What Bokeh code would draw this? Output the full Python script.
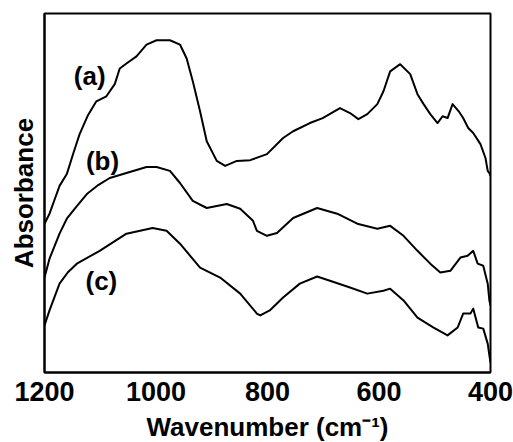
from bokeh.plotting import figure
from bokeh.models import Range1d, FixedTicker, ColumnDataSource
from bokeh.core.properties import value
from bokeh.embed import file_html
from bokeh.resources import INLINE

# Spectrum (a)
wn_a = [1200, 1191, 1182, 1173, 1160, 1148, 1137, 1122, 1107, 1089, 1074, 1065, 1053, 1035,
        1017, 999, 975, 957, 945, 934, 921, 909, 891, 876, 855, 831, 801, 772, 754, 724,
        701, 670, 652, 637, 621, 603, 592, 580, 562, 544, 531, 520, 508, 495, 486, 477,
        468, 457, 449, 440, 431, 418, 409, 405, 402, 400]
abs_a = [0.411, 0.439, 0.478, 0.517, 0.550, 0.610, 0.662, 0.715, 0.754, 0.768, 0.802, 0.846,
         0.860, 0.880, 0.913, 0.925, 0.925, 0.913, 0.874, 0.810, 0.726, 0.642, 0.587, 0.573,
         0.587, 0.589, 0.606, 0.651, 0.670, 0.693, 0.707, 0.735, 0.721, 0.704, 0.718, 0.746,
         0.782, 0.838, 0.858, 0.830, 0.774, 0.746, 0.718, 0.693, 0.712, 0.707, 0.746, 0.726,
         0.707, 0.679, 0.665, 0.634, 0.595, 0.559, 0.553, 0.545]

# Spectrum (b)
wn_b = [1200, 1191, 1173, 1160, 1142, 1124, 1103, 1083, 1053, 1017, 999, 975, 957, 934, 909,
        873, 849, 826, 819, 801, 783, 754, 711, 675, 639, 603, 580, 556, 531, 508, 490,
        472, 454, 441, 431, 423, 413, 405, 402, 400]
abs_b = [0.260, 0.313, 0.383, 0.425, 0.460, 0.494, 0.520, 0.539, 0.553, 0.570, 0.570, 0.559,
         0.525, 0.475, 0.455, 0.466, 0.453, 0.419, 0.391, 0.377, 0.385, 0.427, 0.455, 0.439,
         0.411, 0.397, 0.405, 0.377, 0.335, 0.299, 0.274, 0.279, 0.316, 0.321, 0.335, 0.299,
         0.293, 0.243, 0.196, 0.182]

# Spectrum (c)
wn_c = [1200, 1191, 1173, 1158, 1142, 1101, 1053, 1006, 981, 957, 921, 885, 849, 819, 813,
        796, 772, 742, 711, 688, 652, 621, 592, 580, 556, 531, 502, 477, 459, 449, 436,
        431, 422, 413, 405, 402, 400]
abs_c = [0.126, 0.168, 0.243, 0.275, 0.299, 0.335, 0.383, 0.399, 0.391, 0.355, 0.288, 0.260,
         0.215, 0.159, 0.154, 0.168, 0.204, 0.243, 0.263, 0.251, 0.232, 0.215, 0.223, 0.229,
         0.196, 0.148, 0.120, 0.098, 0.120, 0.159, 0.159, 0.173, 0.120, 0.117, 0.075, 0.042,
         0.022]

# Curve labels
label_text = ["(a)", "(b)", "(c)"]
label_wn = [1119, 1096, 1098]
label_abs = [0.824, 0.587, 0.251]

x_ticks = [1200, 1000, 800, 600, 400]

FONT = "Liberation Sans"

p = figure(width=513, height=442, output_backend="svg", toolbar_location=None,
           x_range=Range1d(1200, 400), y_range=Range1d(-0.006, 1.0),
           min_border_left=44, min_border_right=23, min_border_top=13, min_border_bottom=70)
p.frame_width = 446
p.frame_height = 359

p.grid.visible = False
p.background_fill_color = "white"
p.border_fill_color = "white"
p.outline_line_color = "black"
p.outline_line_width = 2

for wn, ab in [(wn_a, abs_a), (wn_b, abs_b), (wn_c, abs_c)]:
    p.line(wn, ab, line_color="black", line_width=2, line_join="round")

src = ColumnDataSource(dict(x=label_wn, y=label_abs, t=label_text))
p.text(x="x", y="y", text="t", source=src, text_align="center", text_baseline="middle",
       text_font=value(FONT), text_font_size="26px", text_font_style="bold",
       text_color="black")

xa = p.xaxis[0]
xa.ticker = FixedTicker(ticks=x_ticks)
xa.axis_label = "Wavenumber (cm\u207b\u00b9)"
xa.major_tick_in = 0
xa.major_tick_out = 0
xa.minor_tick_in = 0
xa.minor_tick_out = 0
xa.axis_line_width = 2
xa.major_label_text_font = FONT
xa.major_label_text_font_size = "27px"
xa.major_label_text_font_style = "bold"
xa.major_label_text_color = "black"
xa.major_label_standoff = 9
xa.axis_label_text_font = FONT
xa.axis_label_text_font_size = "26px"
xa.axis_label_text_font_style = "bold"
xa.axis_label_text_color = "black"
xa.axis_label_standoff = 8

ya = p.yaxis[0]
ya.axis_label = "Absorbance"
ya.ticker = FixedTicker(ticks=[])
ya.major_tick_in = 0
ya.major_tick_out = 0
ya.minor_tick_in = 0
ya.minor_tick_out = 0
ya.axis_line_width = 2
ya.major_label_text_font_size = "0px"
ya.axis_label_text_font = FONT
ya.axis_label_text_font_size = "26px"
ya.axis_label_text_font_style = "bold"
ya.axis_label_text_color = "black"
ya.axis_label_standoff = 6

open("out.html", "w").write(file_html(p, INLINE))
